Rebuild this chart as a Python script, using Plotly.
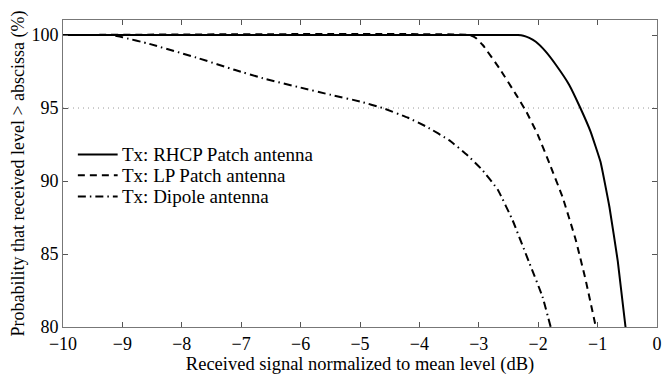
import plotly.graph_objects as go

rhcp_x = [-10, -2.34, -2.25, -2.15, -2.04, -1.88, -1.70, -1.48, -1.29, -1.12, -0.95, -0.80, -0.66, -0.53]
rhcp_y = [100, 100, 99.95, 99.8, 99.54, 98.9, 97.95, 96.6, 95.0, 93.4, 91.3, 88.2, 84.5, 80.0]

lp_x = [-10, -3.15, -3.05, -2.93, -2.65, -2.37, -2.20, -2.01, -1.81, -1.59, -1.37, -1.20, -1.03]
lp_y = [100, 100, 99.8, 99.3, 97.7, 95.9, 94.75, 93.2, 91.2, 88.9, 86.0, 83.2, 80.0]

dip_x = [-10, -9.2, -9.0, -8.55, -7.71, -7.1, -6.6, -6.0, -5.49, -5.0, -4.62, -4.2, -3.87, -3.5, -3.2, -2.95, -2.68, -2.43, -2.15, -1.93, -1.79]
dip_y = [100, 100, 99.85, 99.4, 98.4, 97.6, 97.0, 96.4, 95.9, 95.45, 95.0, 94.35, 93.7, 92.8, 91.8, 90.8, 89.4, 87.3, 84.4, 82.1, 80.0]

names = ["Tx: RHCP Patch antenna", "Tx: LP Patch antenna", "Tx: Dipole antenna"]
x_ticks = [-10, -9, -8, -7, -6, -5, -4, -3, -2, -1, 0]
x_ticktext = ["\u221210", "\u22129", "\u22128", "\u22127", "\u22126", "\u22125", "\u22124", "\u22123", "\u22122", "\u22121", "0"]
y_ticks = [80, 85, 90, 95, 100]

dashes = ["solid", "7px,5px", "8px,4px,1.5px,4px"]
series = [(rhcp_x, rhcp_y), (lp_x, lp_y), (dip_x, dip_y)]

font_family = "Liberation Serif, Times New Roman, serif"

fig = go.Figure()
for (xs, ys), nm, ds in zip(series, names, dashes):
    fig.add_trace(go.Scatter(x=xs, y=ys, mode="lines", name=nm, showlegend=False,
                             line=dict(color="black", width=2, dash=ds,
                                       shape="spline", smoothing=0.3)))

fig.add_shape(type="line", xref="paper", x0=0, x1=1, yref="y", y0=95, y1=95,
              line=dict(color="#999999", width=1, dash="1px,4px"), layer="below")

# legend drawn in paper coordinates (inside the axes box)
leg_x0, leg_x1, leg_tx = 0.025, 0.092, 0.096
leg_rows = [0.562, 0.494, 0.425]
for nm, ds, ly in zip(names, dashes, leg_rows):
    fig.add_shape(type="line", xref="paper", yref="paper", x0=leg_x0, x1=leg_x1, y0=ly, y1=ly,
                  line=dict(color="black", width=2, dash=ds))
    fig.add_annotation(xref="paper", yref="paper", x=leg_tx, y=ly, text=nm, showarrow=False,
                       xanchor="left", yanchor="middle",
                       font=dict(size=19, family=font_family, color="black"))

fig.update_layout(
    width=667, height=377,
    margin=dict(l=63, r=5, t=20, b=50),
    paper_bgcolor="white", plot_bgcolor="white",
    font=dict(family=font_family, size=18, color="black"),
    showlegend=False,
    xaxis=dict(range=[-10, 0], tickvals=x_ticks, ticktext=x_ticktext,
               ticks="inside", ticklen=5, tickcolor="#555555", showline=True,
               linecolor="#777777", linewidth=1, mirror="ticks", showgrid=False,
               zeroline=False, tickfont=dict(size=18),
               title=dict(text="Received signal normalized to mean level (dB)",
                          font=dict(size=18.5), standoff=0)),
    yaxis=dict(range=[80, 101.03], tickvals=y_ticks, ticks="inside", ticklen=5,
               tickcolor="#555555", showline=True, linecolor="#777777", linewidth=1,
               mirror="ticks", showgrid=False, zeroline=False, tickfont=dict(size=18),
               title=dict(text="Probability that received level > abscissa (%)",
                          font=dict(size=18), standoff=2)),
)

fig.write_html("out.html")
